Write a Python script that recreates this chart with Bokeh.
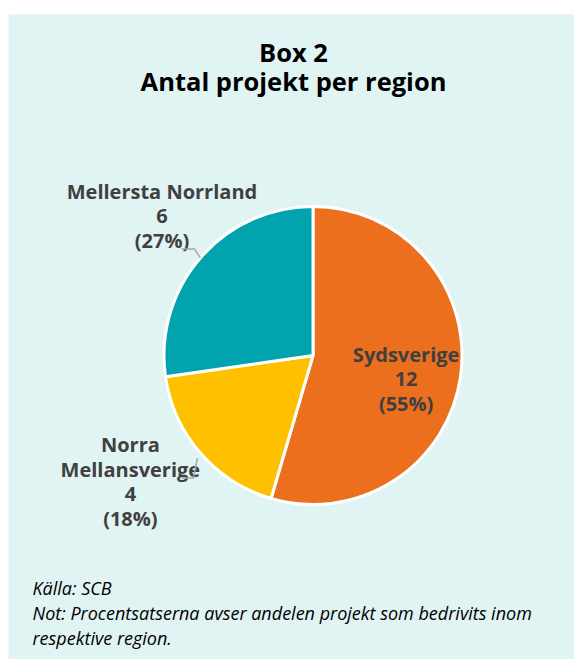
import math
from bokeh.plotting import figure
from bokeh.models import Range1d
from bokeh.core.properties import value
from bokeh.embed import file_html
from bokeh.resources import INLINE

# ---- data ----
regions = ["Sydsverige", "Norra Mellansverige", "Mellersta Norrland"]
label_names = ["Sydsverige", "Norra\nMellansverige", "Mellersta Norrland"]
counts = [12, 4, 6]
colors = ["#EC6F1D", "#FFC000", "#00A3AE"]
title_lines = ["Box 2", "Antal projekt per region"]
footnote_lines = ["Källa: SCB",
                  "Not: Procentsatserna avser andelen projekt som bedrivits inom",
                  "respektive region."]

W, H = 574, 659
TOP, LEFT = 14, 8
FW, FH = W - LEFT, H - TOP
BG = "#E0F4F3"
FONT = "Open Sans"

p = figure(width=W, height=H, output_backend="svg", toolbar_location=None,
           x_range=Range1d(0, FW), y_range=Range1d(0, FH),
           min_border_top=TOP, min_border_left=LEFT, min_border_right=0, min_border_bottom=0,
           border_fill_color="white", background_fill_color=BG, outline_line_color=None)
p.axis.visible = False
p.grid.visible = False

cx, cy, R = 304.5, 304.0, 149.0
total = sum(counts)
starts, ends, mids, pcts = [], [], [], []
cum = 0
for c in counts:
    a0 = math.pi / 2 - 2 * math.pi * cum / total
    cum += c
    a1 = math.pi / 2 - 2 * math.pi * cum / total
    starts.append(a0); ends.append(a1); mids.append((a0 + a1) / 2)
    pcts.append(round(100 * c / total))

p.wedge(x=cx, y=cy, radius=R, start_angle=starts, end_angle=ends, direction="clock",
        fill_color=colors, line_color="white", line_width=3)

# label layout: (radius factor, dx, dy) -> first-line baseline, line spacing
label_layout = [(0.55, 12, 12.7), (1.4, -25, 47.6), (1.4, 6.6, 27.7)]
LS = 24.5
tx, ty, tt = [], [], []
for name, c, pc, m, (rf, dx, dy) in zip(label_names, counts, pcts, mids, label_layout):
    x0 = cx + rf * R * math.cos(m) + dx
    y0 = cy + rf * R * math.sin(m) + dy
    lines = name.split("\n") + [str(c), f"({pc}%)"]
    for k, ln in enumerate(lines):
        tx.append(x0); ty.append(y0 - k * LS); tt.append(ln)
p.text(x=tx, y=ty, text=tt, text_font=value(FONT), text_font_style="bold",
       text_font_size="20px", text_color="#404040", text_align="center",
       text_baseline="alphabetic")

# leader lines for outer labels (offsets from the slice's edge point)
leader = {1: [(-3, -5), (-7, -25), (-19, -25)],
          2: [(0, 0), (-6, 9), (-19, 9)]}
for i, pts in leader.items():
    ex = cx + R * math.cos(mids[i]); ey = cy + R * math.sin(mids[i])
    p.line([ex + dx for dx, dy in pts], [ey + dy for dx, dy in pts],
           line_color="#A6A6A6", line_width=1.5)

# title
p.text(x=[285, 285], y=[607.3, 579], text=title_lines, text_font=value(FONT),
       text_font_style="bold", text_font_size="25.5px", text_color="#000000",
       text_align="center", text_baseline="alphabetic")

# footnote
p.text(x=[24, 24, 24], y=[72, 47, 22], text=footnote_lines, text_font=value(FONT),
       text_font_style="italic", text_font_size="18px", text_color="#000000",
       text_align="left", text_baseline="alphabetic")

open("out.html", "w").write(file_html(p, INLINE))
